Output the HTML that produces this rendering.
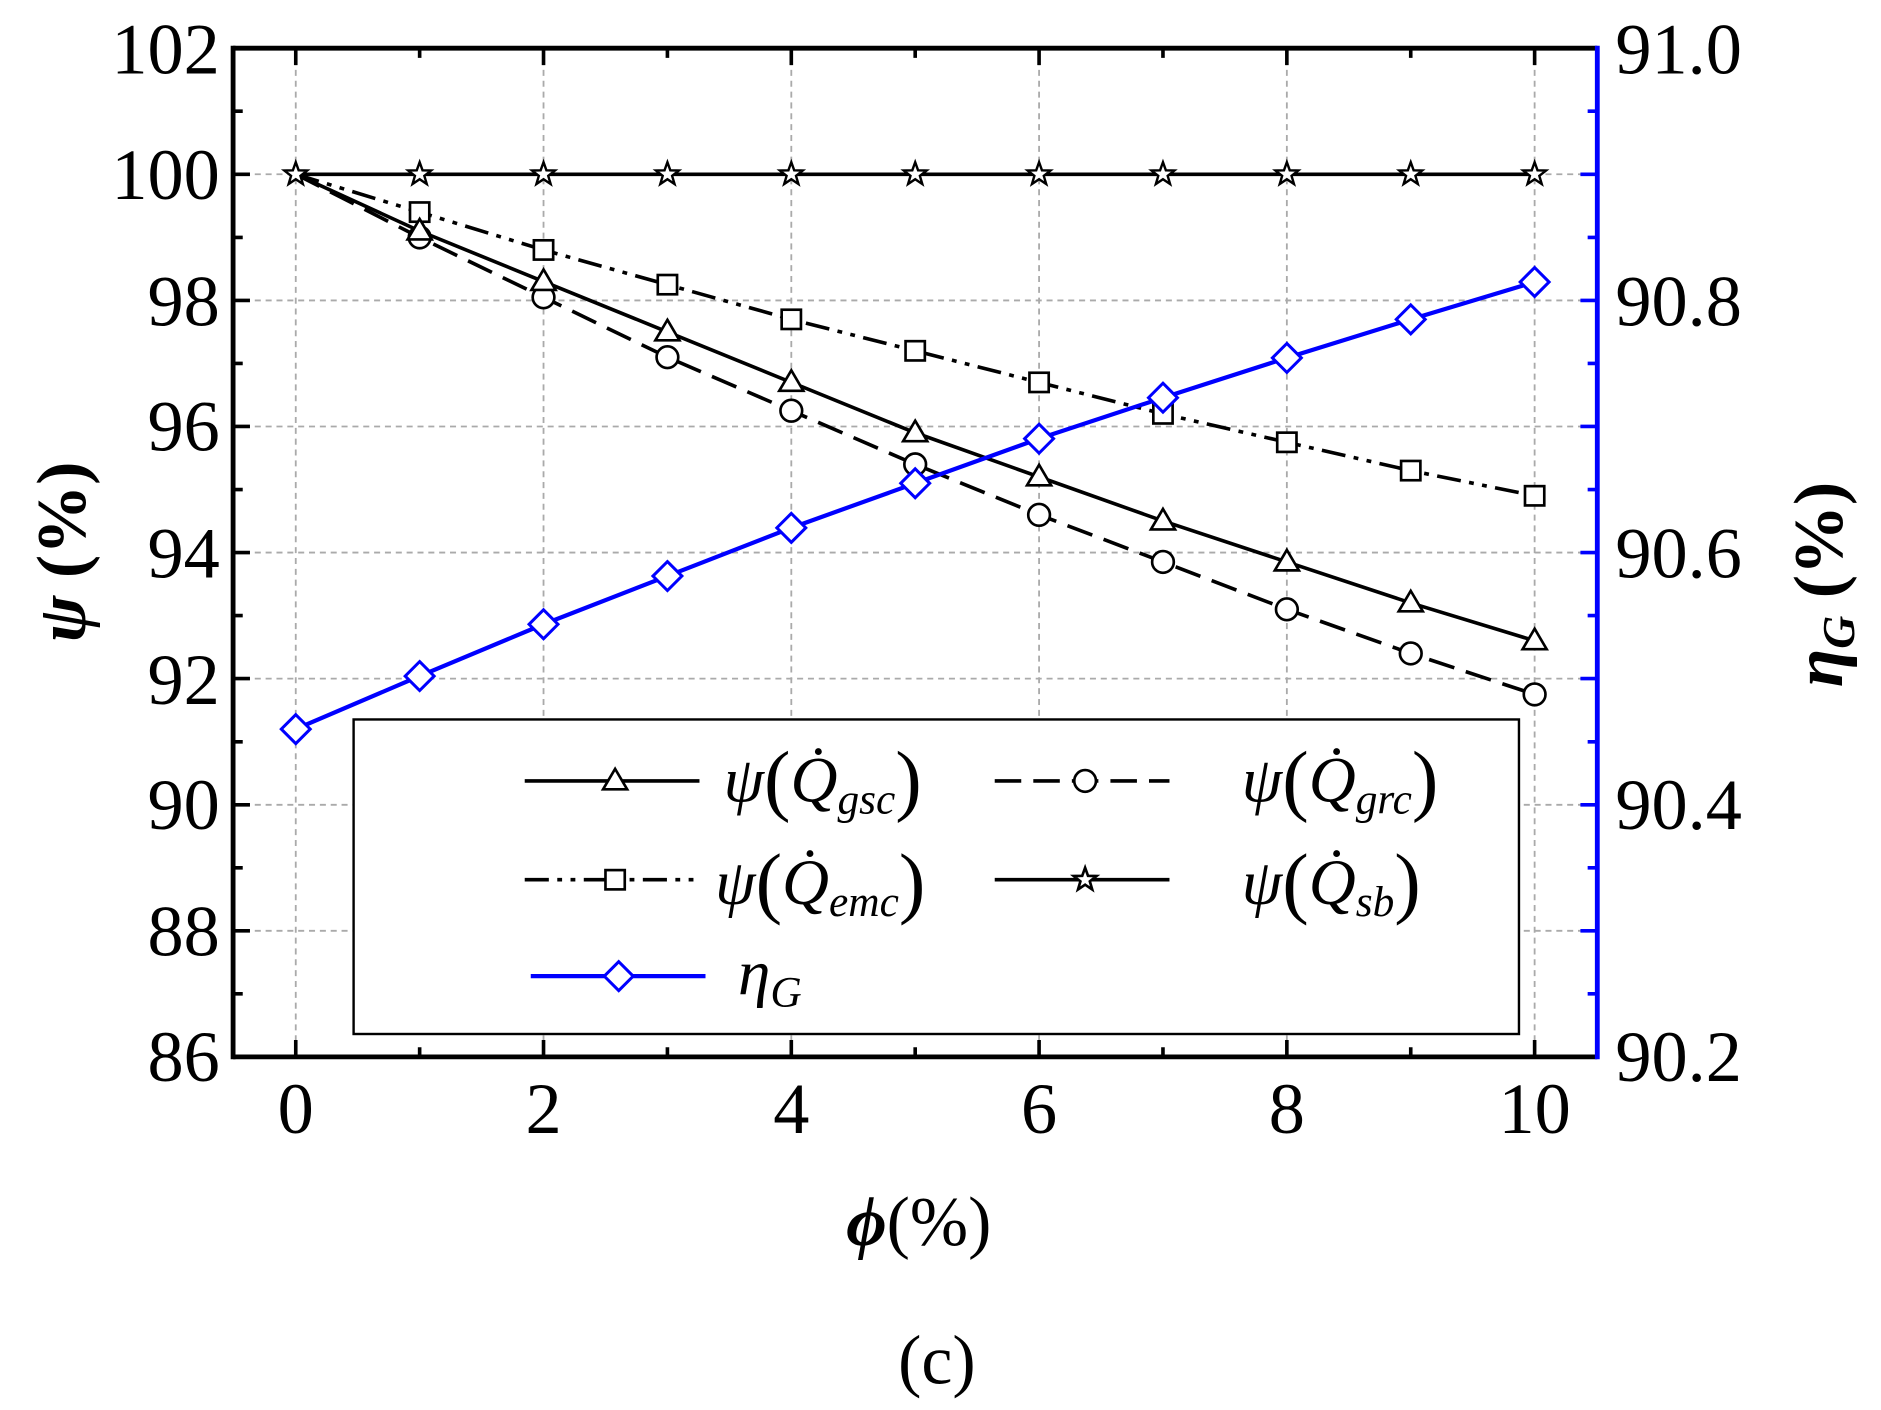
<!DOCTYPE html>
<html><head><meta charset="utf-8"><style>html,body{margin:0;padding:0;background:#fff}svg{display:block}</style></head>
<body>
<svg width="1881" height="1410" viewBox="0 0 1560 1170" xmlns="http://www.w3.org/2000/svg" font-family="Liberation Serif, serif">
<rect width="1560" height="1170" fill="#fff"/>
<g stroke="#aaa" stroke-width="1.5" stroke-dasharray="5,4">
<line x1="245" y1="40" x2="245" y2="877"/><line x1="450.6" y1="40" x2="450.6" y2="877"/><line x1="656.2" y1="40" x2="656.2" y2="877"/><line x1="861.8" y1="40" x2="861.8" y2="877"/><line x1="1067.4" y1="40" x2="1067.4" y2="877"/><line x1="1273" y1="40" x2="1273" y2="877"/>
<line x1="193" y1="144.6" x2="1325" y2="144.6"/><line x1="193" y1="249.3" x2="1325" y2="249.3"/><line x1="193" y1="353.9" x2="1325" y2="353.9"/><line x1="193" y1="458.5" x2="1325" y2="458.5"/><line x1="193" y1="563.1" x2="1325" y2="563.1"/><line x1="193" y1="667.8" x2="1325" y2="667.8"/><line x1="193" y1="772.4" x2="1325" y2="772.4"/>
</g>
<g stroke="#000" stroke-width="4" fill="none">
<line x1="193" y1="40" x2="1325" y2="40"/><line x1="193" y1="877" x2="1325" y2="877"/><line x1="193" y1="38" x2="193" y2="879"/>
</g>
<line x1="1325" y1="38" x2="1325" y2="879" stroke="#00f" stroke-width="4"/>
<g stroke="#000" stroke-width="3">
<path d="M193 40h14M193 144.6h14M193 249.3h14M193 353.9h14M193 458.5h14M193 563.1h14M193 667.8h14M193 772.4h14M193 92.3h8M193 197h8M193 301.6h8M193 406.2h8M193 510.8h8M193 615.5h8M193 720.1h8M193 824.7h8"/>
<path d="M245 877v-14M450.6 877v-14M656.2 877v-14M861.8 877v-14M1067.4 877v-14M1273 877v-14M347.8 877v-8M553.4 877v-8M759 877v-8M964.6 877v-8M1170.2 877v-8"/>
<path d="M245 40v14M450.6 40v14M656.2 40v14M861.8 40v14M1067.4 40v14M1273 40v14M347.8 40v8M553.4 40v8M759 40v8M964.6 40v8M1170.2 40v8"/>
</g>
<g stroke="#00f" stroke-width="3">
<path d="M1325 144.6h-14M1325 249.3h-14M1325 353.9h-14M1325 458.5h-14M1325 563.1h-14M1325 667.8h-14M1325 772.4h-14M1325 92.3h-8M1325 197h-8M1325 301.6h-8M1325 406.2h-8M1325 510.8h-8M1325 615.5h-8M1325 720.1h-8M1325 824.7h-8"/>
</g>
<g font-size="60" text-anchor="end">
<text x="182" y="61">102</text><text x="182" y="165">100</text><text x="182" y="270">98</text><text x="182" y="374">96</text><text x="182" y="479">94</text><text x="182" y="584">92</text><text x="182" y="688">90</text><text x="182" y="793">88</text><text x="182" y="897">86</text>
</g>
<g font-size="60" text-anchor="start">
<text x="1340" y="61">91.0</text><text x="1340" y="270">90.8</text><text x="1340" y="479">90.6</text><text x="1340" y="688">90.4</text><text x="1340" y="897">90.2</text>
</g>
<g font-size="60" text-anchor="middle">
<text x="245" y="940">0</text><text x="450.6" y="940">2</text><text x="656.2" y="940">4</text><text x="861.8" y="940">6</text><text x="1067.4" y="940">8</text><text x="1273" y="940">10</text>
</g>
<text transform="translate(70,458) rotate(-90)" font-size="58" text-anchor="middle" font-weight="bold"><tspan font-style="italic">ψ</tspan> (%)</text>
<text transform="translate(1528,485) rotate(-90)" font-size="58" text-anchor="middle" font-weight="bold"><tspan font-style="italic">η</tspan><tspan font-style="italic" font-size="38" dy="10">G</tspan><tspan dy="-10"> (%)</tspan></text>
<text x="762" y="1033" font-size="58" text-anchor="middle"><tspan font-style="italic" font-weight="bold">ϕ</tspan>(%)</text>
<text x="777" y="1148" font-size="58" text-anchor="middle">(c)</text>
<g fill="none" stroke="#000" stroke-width="3">
<polyline points="245,144.6 347.8,144.6 450.6,144.6 553.4,144.6 656.2,144.6 759,144.6 861.8,144.6 964.6,144.6 1067.4,144.6 1170.2,144.6 1273,144.6"/>
<polyline points="245,144.6 347.8,191.7 450.6,233.6 553.4,275.4 656.2,317.3 759,359.1 861.8,395.7 964.6,432.3 1067.4,466.3 1170.2,500.3 1273,531.7"/>
<polyline stroke-dasharray="22,10" points="245,144.6 347.8,197 450.6,246.7 553.4,296.4 656.2,340.8 759,385.3 861.8,427.2 964.6,466.3 1067.4,505.6 1170.2,542.2 1273,576.2"/>
<polyline stroke-dasharray="20,7,4,7,4,7" points="245,144.6 347.8,176 450.6,207.4 553.4,236.2 656.2,265 759,291.1 861.8,317.3 964.6,343.4 1067.4,367 1170.2,390.5 1273,411.4"/>
</g>
<polyline fill="none" stroke="#00f" stroke-width="3.5" points="245,605 347.8,561 450.6,518 553.4,478 656.2,438 759,401 861.8,364 964.6,330 1067.4,297 1170.2,265 1273,234"/>
<g fill="#fff" stroke="#000" stroke-width="2.2">
<g><rect x="339.8" y="168" width="16" height="16"/><rect x="442.6" y="199.4" width="16" height="16"/><rect x="545.4" y="228.2" width="16" height="16"/><rect x="648.2" y="257" width="16" height="16"/><rect x="751" y="283.1" width="16" height="16"/><rect x="853.8" y="309.3" width="16" height="16"/><rect x="956.6" y="335.4" width="16" height="16"/><rect x="1059.4" y="359" width="16" height="16"/><rect x="1162.2" y="382.5" width="16" height="16"/><rect x="1265" y="403.4" width="16" height="16"/></g>
<g><circle cx="347.8" cy="197" r="9"/><circle cx="450.6" cy="246.7" r="9"/><circle cx="553.4" cy="296.4" r="9"/><circle cx="656.2" cy="340.8" r="9"/><circle cx="759" cy="385.3" r="9"/><circle cx="861.8" cy="427.2" r="9"/><circle cx="964.6" cy="466.3" r="9"/><circle cx="1067.4" cy="505.6" r="9"/><circle cx="1170.2" cy="542.2" r="9"/><circle cx="1273" cy="576.2" r="9"/></g>
<g><path d="M347.8 181.7l10 17h-20z"/><path d="M450.6 223.6l10 17h-20z"/><path d="M553.4 265.4l10 17h-20z"/><path d="M656.2 307.3l10 17h-20z"/><path d="M759 349.1l10 17h-20z"/><path d="M861.8 385.7l10 17h-20z"/><path d="M964.6 422.3l10 17h-20z"/><path d="M1067.4 456.3l10 17h-20z"/><path d="M1170.2 490.3l10 17h-20z"/><path d="M1273 521.7l10 17h-20z"/></g>
</g>
<defs><path id="st" d="M0,-10 L2.4,-3.3 9.5,-3.1 3.9,1.3 5.9,8.1 0,4.1 -5.9,8.1 -3.9,1.3 -9.5,-3.1 -2.4,-3.3Z"/></defs>
<g fill="#fff" stroke="#000" stroke-width="2">
<use href="#st" x="245" y="144.6"/><use href="#st" x="347.8" y="144.6"/><use href="#st" x="450.6" y="144.6"/><use href="#st" x="553.4" y="144.6"/><use href="#st" x="656.2" y="144.6"/><use href="#st" x="759" y="144.6"/><use href="#st" x="861.8" y="144.6"/><use href="#st" x="964.6" y="144.6"/><use href="#st" x="1067.4" y="144.6"/><use href="#st" x="1170.2" y="144.6"/><use href="#st" x="1273" y="144.6"/>
</g>
<g fill="#fff" stroke="#00f" stroke-width="2.5">
<path d="M245 593l12 12-12 12-12-12z"/><path d="M347.8 549l12 12-12 12-12-12z"/><path d="M450.6 506l12 12-12 12-12-12z"/><path d="M553.4 466l12 12-12 12-12-12z"/><path d="M656.2 426l12 12-12 12-12-12z"/><path d="M759 389l12 12-12 12-12-12z"/><path d="M861.8 352l12 12-12 12-12-12z"/><path d="M964.6 318l12 12-12 12-12-12z"/><path d="M1067.4 285l12 12-12 12-12-12z"/><path d="M1170.2 253l12 12-12 12-12-12z"/><path d="M1273 222l12 12-12 12-12-12z"/>
</g>
<rect x="293" y="597" width="967" height="261" fill="#fff" stroke="#000" stroke-width="2"/>
<g stroke="#000" stroke-width="3" fill="none">
<line x1="435" y1="648" x2="580" y2="648"/>
<line x1="825" y1="648" x2="970" y2="648" stroke-dasharray="22,10"/>
<line x1="435" y1="730" x2="580" y2="730" stroke-dasharray="20,7,4,7,4,7"/>
<line x1="825" y1="730" x2="970" y2="730"/>
</g>
<line x1="440" y1="810" x2="585" y2="810" stroke="#00f" stroke-width="3.5"/>
<g fill="#fff" stroke="#000" stroke-width="2.2">
<path d="M510 638l10 17h-20z"/><circle cx="900" cy="648" r="9"/><rect x="502" y="722" width="16" height="16"/>
<use href="#st" x="900" y="730"/>
</g>
<path d="M513 798l12 12-12 12-12-12z" fill="#fff" stroke="#00f" stroke-width="2.5"/>
<g font-size="54" font-style="italic">
<text x="600" y="665">ψ<tspan font-style="normal" font-size="66" dy="4">(</tspan><tspan dy="-4">Q̇</tspan><tspan font-size="36" dy="10">gsc</tspan><tspan font-style="normal" font-size="66" dy="-6">)</tspan></text>
<text x="1030" y="665">ψ<tspan font-style="normal" font-size="66" dy="4">(</tspan><tspan dy="-4">Q̇</tspan><tspan font-size="36" dy="10">grc</tspan><tspan font-style="normal" font-size="66" dy="-6">)</tspan></text>
<text x="593" y="750">ψ<tspan font-style="normal" font-size="66" dy="4">(</tspan><tspan dy="-4">Q̇</tspan><tspan font-size="36" dy="10">emc</tspan><tspan font-style="normal" font-size="66" dy="-6">)</tspan></text>
<text x="1030" y="750">ψ<tspan font-style="normal" font-size="66" dy="4">(</tspan><tspan dy="-4">Q̇</tspan><tspan font-size="36" dy="10">sb</tspan><tspan font-style="normal" font-size="66" dy="-6">)</tspan></text>
<text x="612" y="825">η<tspan font-size="36" dy="10">G</tspan></text>
</g>
</svg>
</body></html>
